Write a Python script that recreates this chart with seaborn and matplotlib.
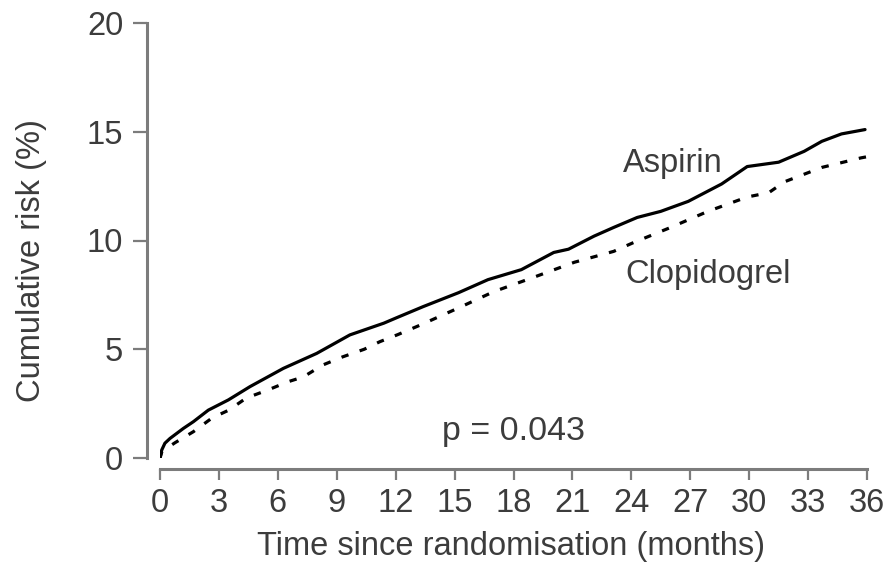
import numpy as np
import pandas as pd
import matplotlib
matplotlib.use("Agg")
import matplotlib.pyplot as plt
import seaborn as sns

# ---- data ----
aspirin_months = [0, 0.09, 0.25, 0.51, 0.85, 1.19, 1.7, 2.46, 3.48, 4.58, 6.28, 7.98,
                  9.67, 11.4, 12.05, 13.4, 15.2, 16.7, 18.4, 20.05, 20.8, 22.1, 23.1,
                  24.3, 25.5, 26.9, 28.6, 29.9, 31.5, 32.8, 33.7, 34.7, 35.9]
aspirin_risk = [0, 0.37, 0.68, 0.9, 1.13, 1.36, 1.67, 2.2, 2.67, 3.28, 4.12, 4.81,
                5.66, 6.2, 6.45, 6.96, 7.6, 8.2, 8.66, 9.45, 9.6, 10.2, 10.6,
                11.06, 11.34, 11.8, 12.6, 13.4, 13.6, 14.1, 14.56, 14.9, 15.1]

clopidogrel_months = [0, 0.1, 0.76, 1.7, 2.65, 3.5, 4.4, 5.5, 6.5, 7.3, 8.3, 9.3, 10.4,
                      11.2, 12.1, 13.3, 15.2, 17.0, 19.0, 21.1, 23.1, 24.1, 26.0, 27.9,
                      29.9, 31.0, 31.8, 33.7, 35.7, 36.0]
clopidogrel_risk = [0, 0.3, 0.7, 1.21, 1.84, 2.2, 2.76, 3.13, 3.5, 3.73, 4.28, 4.65, 5.0,
                    5.35, 5.67, 6.13, 6.9, 7.65, 8.3, 9.0, 9.5, 9.9, 10.6, 11.34,
                    12.0, 12.2, 12.7, 13.36, 13.8, 13.85]

x_ticks = [0, 3, 6, 9, 12, 15, 18, 21, 24, 27, 30, 33, 36]
y_ticks = [0, 5, 10, 15, 20]
labels = {"aspirin": "Aspirin", "clopidogrel": "Clopidogrel"}
p_text = "p = 0.043"
x_label = "Time since randomisation (months)"
y_label = "Cumulative risk (%)"

# ---- style ----
sns.set_theme(style="ticks")
plt.rcParams["font.family"] = ["Liberation Sans", "DejaVu Sans"]
TXT = "#3c3c3c"
AX = "#7c7c7c"
FS = 23.5

df_a = pd.DataFrame({"month": aspirin_months, "risk": aspirin_risk})
df_c = pd.DataFrame({"month": clopidogrel_months, "risk": clopidogrel_risk})

fig = plt.figure(figsize=(8.89, 5.62), dpi=100)
ax = fig.add_axes([160 / 889, 104 / 562, 707 / 889, 435 / 562])

sns.lineplot(data=df_a, x="month", y="risk", ax=ax, color="black", lw=2.3,
             estimator=None, sort=False)
sns.lineplot(data=df_c, x="month", y="risk", ax=ax, color="black", lw=2.3,
             estimator=None, sort=False, dashes=False)
ax.lines[1].set_dashes([2.3, 3.7])

ax.set_xlim(0, 36)
ax.set_ylim(0, 20)
ax.set_xticks(x_ticks)
ax.set_yticks(y_ticks)

sns.despine(ax=ax, offset=dict(left=9.4, bottom=7.9))
for s in ("left", "bottom"):
    ax.spines[s].set_color(AX)
    ax.spines[s].set_linewidth(2.2)

ax.tick_params(axis="y", direction="out", length=10, width=1.6, color=AX,
               labelsize=FS, labelcolor=TXT, pad=7)
ax.tick_params(axis="x", direction="out", length=8, width=1.6, color=AX,
               labelsize=FS, labelcolor=TXT, pad=5.5)

ax.set_xlabel(x_label, fontsize=FS, color=TXT)
ax.set_ylabel(y_label, fontsize=FS, color=TXT)
ax.xaxis.label.set_va("center")
ax.yaxis.label.set_va("center")
ax.xaxis.set_label_coords(0.497, (458 - 547) / 435)
ax.yaxis.set_label_coords((32 - 160) / 707, (458 - 261) / 435)

ax.text(23.57, 13.15, labels["aspirin"], fontsize=FS, color=TXT, va="baseline", ha="left")
ax.text(23.68, 8.05, labels["clopidogrel"], fontsize=FS, color=TXT, va="baseline", ha="left")
ax.text(14.36, 0.83, p_text, fontsize=24.5, color=TXT, va="baseline", ha="left")

ax.set_facecolor("white")
fig.patch.set_facecolor("white")
fig.savefig("out.png", dpi=100)
